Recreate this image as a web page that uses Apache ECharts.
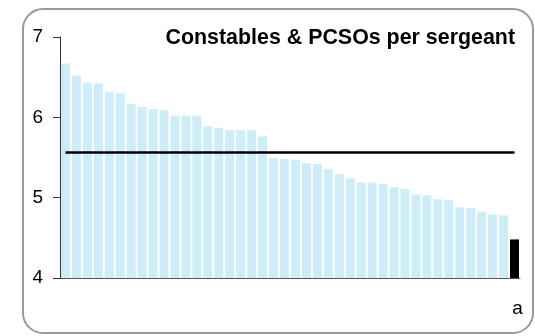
<!DOCTYPE html>
<html>
<head>
<meta charset="utf-8">
<script src="https://cdn.jsdelivr.net/npm/echarts@6/dist/echarts.min.js"></script>
<style>
  html, body { margin: 0; padding: 0; background: #fff; }
  #myChart { width: 535px; height: 336px; }
</style>
</head>
<body>
<div id="myChart"></div>
<script>
// 42 forces, only the last one (highlighted) is labelled
var categories = ['', '', '', '', '', '', '', '', '', '', '', '', '', '', '', '', '', '', '', '', '',
    '', '', '', '', '', '', '', '', '', '', '', '', '', '', '', '', '', '', '', '', 'a'];

// Constables & PCSOs per sergeant
var perSergeant = [6.67, 6.52, 6.43, 6.42, 6.32, 6.30, 6.17, 6.13, 6.10, 6.09,
    6.02, 6.02, 6.02, 5.89, 5.87, 5.84, 5.84, 5.84, 5.76, 5.49, 5.48,
    5.47, 5.43, 5.42, 5.36, 5.29, 5.24, 5.19, 5.19, 5.17, 5.13,
    5.11, 5.04, 5.03, 4.98, 4.97, 4.88, 4.87, 4.82, 4.79, 4.78, 4.48];

// average across forces
var average = 5.57;

var yTicks = [4, 5, 6, 7];

var highlightIndex = categories.length - 1;
var fontFamily = '"Liberation Sans", Arial, sans-serif';

var myChart = echarts.init(document.getElementById('myChart'));
var option = {
    animation: false,
    backgroundColor: '#fff',
    graphic: [{
        type: 'rect',
        shape: { x: 23, y: 9, width: 510, height: 324, r: 20 },
        style: { fill: 'none', stroke: '#999', lineWidth: 2 },
        z: -1
    }],
    title: {
        text: 'Constables & PCSOs per sergeant',
        right: 20,
        top: 28,
        padding: 0,
        textStyle: {
            fontFamily: fontFamily,
            fontSize: 21.4,
            fontWeight: 'bold',
            color: '#000'
        }
    },
    grid: {
        left: 60,
        right: 15,
        top: 37,
        bottom: 58
    },
    xAxis: {
        type: 'category',
        data: categories,
        axisLine: { lineStyle: { color: '#555', width: 1 } },
        axisTick: { show: false },
        axisLabel: {
            interval: 0,
            margin: 21,
            fontFamily: fontFamily,
            fontSize: 19,
            color: '#000',
            padding: [0, 0, 0, 6]
        }
    },
    yAxis: {
        type: 'value',
        min: yTicks[0],
        max: yTicks[yTicks.length - 1],
        interval: 1,
        axisLine: { show: true, lineStyle: { color: '#333', width: 1 } },
        axisTick: { show: true, length: 7, lineStyle: { color: '#333' } },
        splitLine: { show: false },
        axisLabel: {
            margin: 17,
            fontFamily: fontFamily,
            fontSize: 19,
            color: '#000'
        }
    },
    series: [{
        type: 'bar',
        data: perSergeant,
        barWidth: 9,
        itemStyle: {
            color: function (p) {
                return p.dataIndex === highlightIndex ? '#000' : '#cdedf9';
            }
        },
        markLine: {
            silent: true,
            symbol: 'none',
            label: { show: false },
            lineStyle: { color: '#000', width: 2.5, type: 'solid' },
            data: [[
                { coord: [0, average] },
                { coord: [highlightIndex, average] }
            ]]
        }
    }]
};
myChart.setOption(option);
</script>
</body>
</html>
